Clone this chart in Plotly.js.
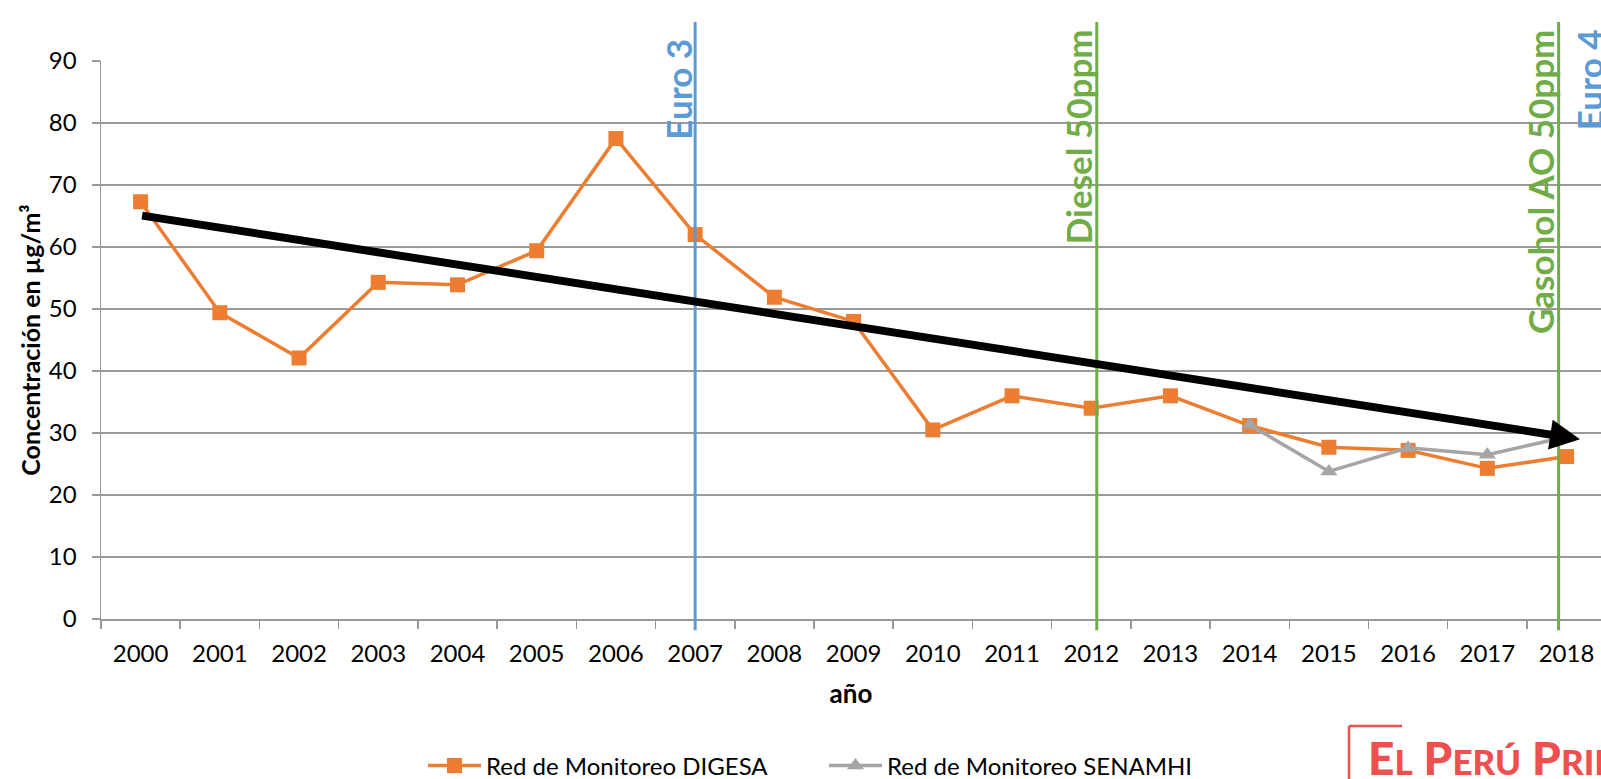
<!DOCTYPE html>
<html><head><meta charset="utf-8">
<script src="https://cdn.plot.ly/plotly-3.0.1.min.js"></script>
<style>html,body{margin:0;padding:0;background:#fff;overflow:hidden}#chart{width:1601px;height:779px}</style>
</head><body><div id="chart"></div>
<script>
// ---- data ----
const years = ['2000','2001','2002','2003','2004','2005','2006','2007','2008','2009','2010','2011','2012','2013','2014','2015','2016','2017','2018'];
const digesa = [67.3,49.4,42.1,54.3,53.9,59.4,77.5,62.0,51.9,48.0,30.5,36.0,34.0,36.0,31.2,27.7,27.2,24.3,26.2];
const senamhiYears = ['2014','2015','2016','2017','2018'];
const senamhi = [31.3,23.8,27.6,26.5,29.4];
// trend arrow: [category index, value]
const trendFrom = [0, 65.1];
const trendTo = [18.17, 29.0];
// regulatory events (category index positions)
const eventLabels = ['Euro 3','Diesel 50ppm','Gasohol AO 50ppm','Euro 4'];
const eventPos = [7.0, 12.07, 17.9, 18.52];
const eventColors = ['#5B9BD5','#70AD47','#70AD47','#5B9BD5'];
const eventLabelTop = [1.043, 1.061, 1.061, 1.061];
const yTicks = [0,10,20,30,40,50,60,70,80,90];

const FONT = 'Lato, Carlito, Calibri, sans-serif';
const xRange = [-0.5, 18.435];
const toPaperX = v => (v - xRange[0]) / (xRange[1] - xRange[0]);

const traces = [
  {x: years, y: digesa, type:'scatter', mode:'lines+markers', name:'Red de Monitoreo DIGESA',
   line:{color:'#ED7D31', width:3.5}, marker:{symbol:'square', size:15, color:'#ED7D31'}},
  {x: senamhiYears, y: senamhi, type:'scatter', mode:'lines+markers', name:'Red de Monitoreo SENAMHI',
   line:{color:'#A5A5A5', width:3.5}, marker:{symbol:'triangle-up', size:15, color:'#A5A5A5'}}
];

const shapes = eventPos.map((p,i)=>({type:'line', xref:'x', yref:'paper', x0:p, x1:p, y0:-0.02, y1:1.07,
  line:{color:eventColors[i], width:3}, layer:'above'}));
// logo bracket
shapes.push({type:'line', xref:'paper', yref:'paper', x0:(1349-101)/1500, x1:(1402-101)/1500, y0:(619-726)/558, y1:(619-726)/558, line:{color:'#EE4F4F', width:2.5}});
shapes.push({type:'line', xref:'paper', yref:'paper', x0:(1349-101)/1500, x1:(1349-101)/1500, y0:(619-726)/558, y1:(619-800)/558, line:{color:'#EE4F4F', width:2.5}});

const annotations = eventLabels.map((t,i)=>({text:t, xref:'paper', yref:'paper', x:toPaperX(eventPos[i]), y:eventLabelTop[i],
  xanchor:'right', yanchor:'top', xshift:5, textangle:-90, showarrow:false,
  font:{family:FONT, size:35, color:eventColors[i], weight:'bold'}}));
annotations.push({text:'', x:trendTo[0], y:trendTo[1], ax:trendFrom[0], ay:trendFrom[1], xref:'x', yref:'y', axref:'x', ayref:'y',
  showarrow:true, arrowhead:2, arrowwidth:8, arrowsize:0.75, arrowcolor:'#000'});
annotations.push({text:"E<span style='font-size:35px'>L</span> P<span style='font-size:35px'>ERÚ</span> P<span style='font-size:35px'>RIMERO</span>",
  xref:'paper', yref:'paper', x:(1366-101)/1500, y:(619-728)/558, xanchor:'left', yanchor:'top', showarrow:false,
  font:{family:FONT, size:46, color:'#EE4F4F', weight:900}});

const layout = {
  width:1601, height:779, margin:{l:101, r:0, t:61, b:160}, paper_bgcolor:'#fff', plot_bgcolor:'#fff',
  font:{family:FONT, color:'#000'},
  showlegend:true,
  legend:{orientation:'h', x:(423-101)/1500, xanchor:'left', yref:'container', y:(779-766)/779, yanchor:'middle', itemwidth:53,
    font:{family:FONT, size:24, color:'#000'}, entrywidth:333},
  xaxis:{type:'category', categoryarray:years, range:xRange, showgrid:false, tickson:'boundaries', ticks:'outside', ticklen:8,
    tickcolor:'#999', tickwidth:1.5, showline:true, linecolor:'#999', linewidth:1.5, zeroline:false, automargin:false,
    tickfont:{family:FONT, size:24, color:'#000'}, ticklabelstandoff:13,
    title:{text:'año', font:{family:FONT, size:26, color:'#000', weight:'bold'}, standoff:18}},
  yaxis:{range:[0,90], tickvals:yTicks, showgrid:true, gridcolor:'#9a9a9a', gridwidth:2, ticks:'outside', ticklen:8,
    tickcolor:'#999', tickwidth:1.5, showline:true, linecolor:'#999', linewidth:1.5, zeroline:false, automargin:false,
    tickfont:{family:FONT, size:24, color:'#000'}, ticklabelstandoff:10,
    title:{text:'Concentración en µg/m³', font:{family:FONT, size:25, color:'#000', weight:'bold'}, standoff:1}},
  shapes:shapes, annotations:annotations
};
Plotly.newPlot('chart', traces, layout, {displayModeBar:false, staticPlot:true});
</script></body></html>
